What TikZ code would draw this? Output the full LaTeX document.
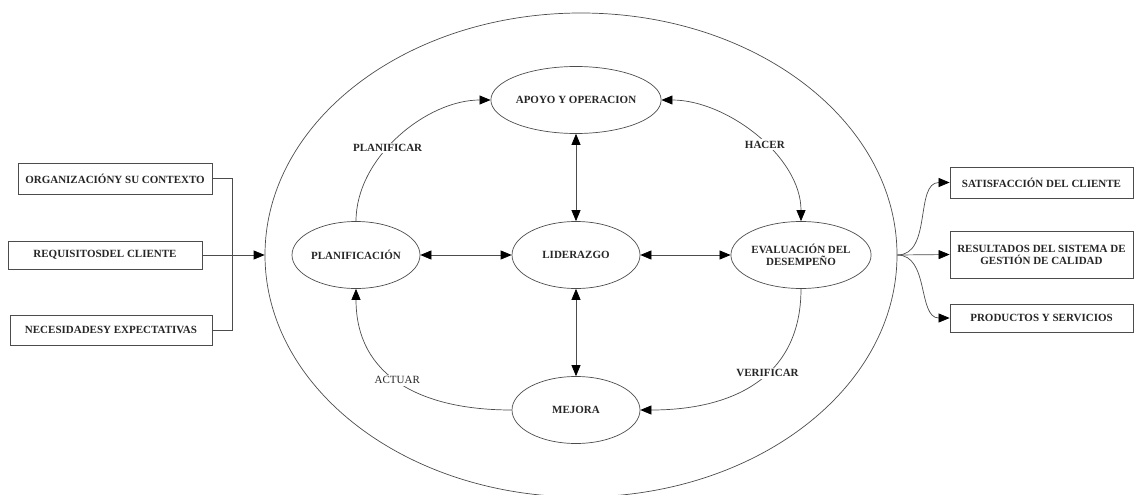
\documentclass[tikz,border=0pt]{standalone}
\usepackage{fontspec}
\setmainfont{Liberation Serif}
\usetikzlibrary{shapes.geometric,arrows.meta}
\begin{document}
\begin{tikzpicture}[x=1pt,y=-1pt,
  >={Triangle[length=11pt,width=9pt,color=black]},
  txt/.style={font=\fontsize{11}{12}\selectfont\bfseries, text=black!85},
  phase/.style={ellipse, draw=black!70, line width=0.7pt, minimum width=128pt,
    minimum height=67pt, inner sep=0pt, align=center, txt},
  box/.style={rectangle, draw=black!70, line width=0.8pt, inner sep=0pt, align=center, txt},
  lbl/.style={fill=white, inner sep=1.5pt, txt},
  conn/.style={draw=black!70, line width=0.7pt}
]
\useasboundingbox (0,0) rectangle (1135,495);

% outer system boundary
\node[ellipse, draw=black!70, line width=0.7pt, minimum width=632pt, minimum height=484pt,
  inner sep=0pt] (big) at (581,255) {};

% PHVA cycle around leadership
\node[phase] (apoyo) at (576,100) {APOYO Y OPERACION};
\node[phase] (lider) at (576,255) {LIDERAZGO};
\node[phase] (plan)  at (356,255) {PLANIFICACIÓN};
\node[phase] (eval)  at (801,255) {EVALUACIÓN DEL\\DESEMPEÑO};
\node[phase] (mejora) at (576,410) {MEJORA};

% inputs
\node[box, minimum width=194pt, minimum height=31pt] (org) at (115,178.5) {ORGANIZACIÓNY SU CONTEXTO};
\node[box, minimum width=194pt, minimum height=28pt] (req) at (105,255) {REQUISITOSDEL CLIENTE};
\node[box, minimum width=202pt, minimum height=30pt] (nec) at (111,330) {NECESIDADESY EXPECTATIVAS};
\coordinate (join) at (232,255);

% outputs
\node[box, minimum width=183pt, minimum height=31pt] (sat) at (1041.5,182.5) {SATISFACCIÓN DEL CLIENTE};
\node[box, minimum width=183pt, minimum height=47pt] (res) at (1041.5,254.5) {RESULTADOS DEL SISTEMA DE\\GESTIÓN DE CALIDAD};
\node[box, minimum width=183pt, minimum height=28pt] (prod) at (1041.5,318) {PRODUCTOS Y SERVICIOS};

% input connectors
\draw[conn] (org.east) -| (join);
\draw[conn] (nec.east) -| (join);
\draw[conn, ->] (req.east) -- (big.west);

% output connectors
\draw[conn, ->] (big.east) to[out=0,in=180] (sat.west);
\draw[conn, ->] (big.east) -- (res.west);
\draw[conn, ->] (big.east) to[out=0,in=180] (prod.west);

% links with leadership
\draw[conn, <->] (plan.east) -- (lider.west);
\draw[conn, <->] (lider.east) -- (eval.west);
\draw[conn, <->] (apoyo.south) -- (lider.north);
\draw[conn, <->] (lider.south) -- (mejora.north);

% cycle steps
\draw[conn, ->] (plan.north) to[out=90,in=180,looseness=0.9]
  node[lbl, pos=0.42] {PLANIFICAR} (apoyo.west);
\draw[conn, <->] (apoyo.east) to[out=0,in=90,looseness=0.9]
  node[lbl, pos=0.56] {HACER} (eval.north);
\draw[conn, ->] (eval.south) to[out=-90,in=0,looseness=1.15]
  node[lbl, pos=0.42] {VERIFICAR} (mejora.east);
\draw[conn, ->] (mejora.west) to[out=180,in=-90,looseness=1.15]
  node[lbl, pos=0.52, font=\fontsize{11}{12}\selectfont] {ACTUAR} (plan.south);
\end{tikzpicture}
\end{document}
